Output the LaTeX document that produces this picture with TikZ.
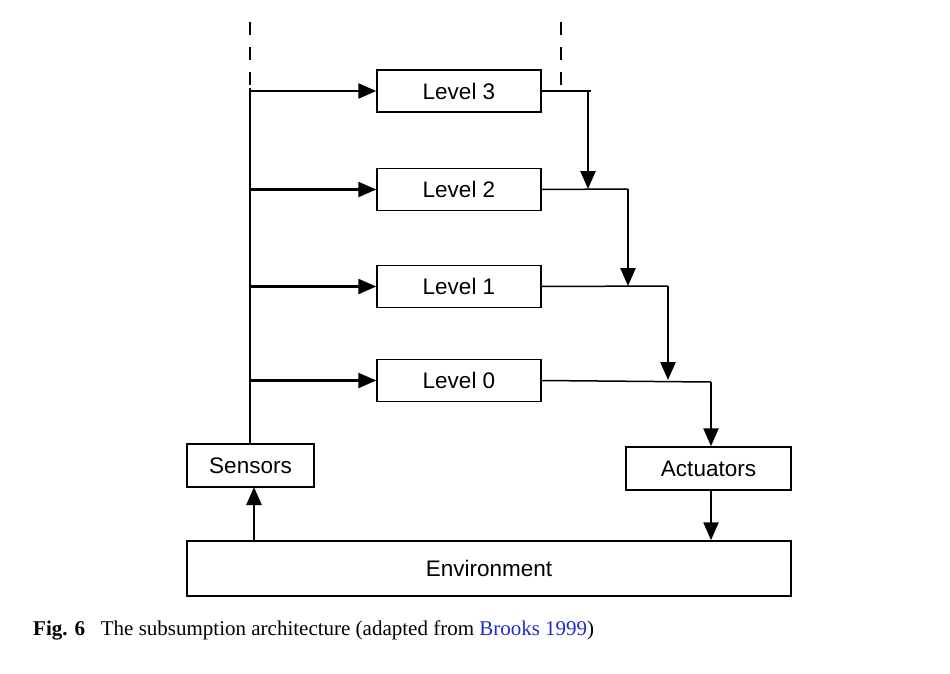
\documentclass[tikz,border=0pt]{standalone}
\usepackage{fontspec}
\setmainfont{Liberation Sans}
\newfontfamily\capfont{Liberation Serif}
\usetikzlibrary{arrows.meta}
\definecolor{linkblue}{RGB}{30,45,200}
\begin{document}
\begin{tikzpicture}[x=1pt,y=-1pt,
  box/.style={draw,line width=1.5pt,inner sep=0pt,font=\fontsize{22.5}{26}\selectfont},
  thin/.style={line width=1.5pt},
  arr/.style={line width=2.5pt,-{Triangle[length=18pt,width=15pt]}},
  dashline/.style={line width=1.5pt,dash pattern=on 13pt off 12pt}]
\useasboundingbox (0,0) rectangle (950,674);
\node[box,minimum width=164pt,minimum height=42pt] (l3) at (459,91) {Level 3};
\node[box,minimum width=164pt,minimum height=42pt] (l2) at (459,189.5) {Level 2};
\node[box,minimum width=164pt,minimum height=42pt] (l1) at (459,286.5) {Level 1};
\node[box,minimum width=164pt,minimum height=42pt] (l0) at (459,380.5) {Level 0};
\node[box,minimum width=127pt,minimum height=43pt] (sens) at (250.5,465.5) {Sensors};
\node[box,minimum width=165pt,minimum height=43pt] (act) at (708.5,468.5) {Actuators};
\node[box,minimum width=604pt,minimum height=55pt] (env) at (489,568.5) {Environment};
% left bus
\coordinate (ltop) at (250,22);
\coordinate (lsplit) at (250,88);
\draw[dashline] (ltop) -- (lsplit);
\draw[thin] (lsplit) -- (sens.north -| lsplit);
\foreach \n in {l3,l2,l1,l0}{
  \draw[arr] (\n.west -| lsplit) -- (\n.west);
}
% right side
\coordinate (j3) at (591,91);
\coordinate (rtop) at (561,22);
\draw[dashline] (rtop) -- (rtop |- j3);
\draw[thin] (l3.east) -- (j3);
\coordinate (j2) at (628,189);
\coordinate (j1) at (668,286);
\coordinate (j0) at (711,382);
\draw[arr] (588,91) -- (588,189);
\draw[thin] (l2.east) -- (j2);
\draw[arr] (j2) -- (j1 -| j2);
\draw[thin] (l1.east) -- (j1);
\draw[arr] (j1) -- (668,380);
\draw[thin] (l0.east) -- (j0);
\draw[arr] (j0) -- (j0 |- act.north);
\draw[arr] (j0 |- act.south) -- (j0 |- env.north);
\draw[arr] (254,541) -- (254,487) coordinate (sb);
% caption
\node[anchor=west,inner sep=0pt,font=\capfont\fontsize{21}{25}\selectfont] (cap) at (33,630)
  {\textbf{Fig. 6}\hspace{0.75em}The subsumption architecture (adapted from \textcolor{linkblue}{Brooks 1999})};
\end{tikzpicture}
\end{document}
